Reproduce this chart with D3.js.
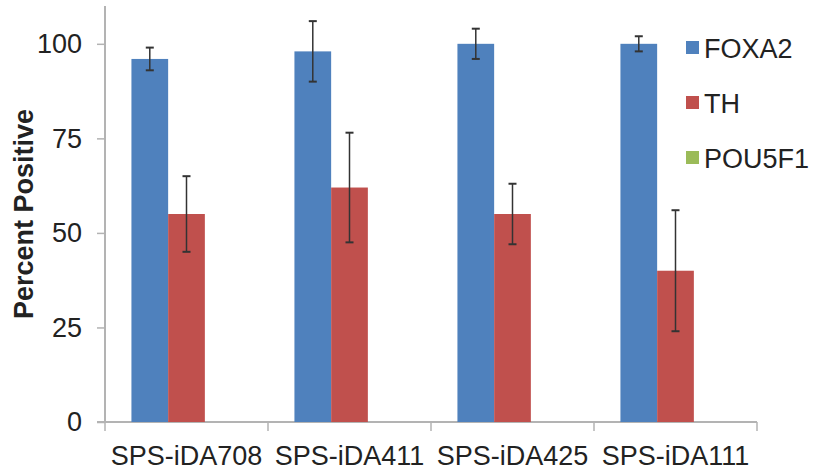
<!DOCTYPE html>
<html>
<head>
<meta charset="utf-8">
<script src="https://cdn.jsdelivr.net/npm/d3@7/dist/d3.min.js"></script>
<style>
  body { margin: 0; background: #fff; }
  svg text { font-family: "Liberation Sans", Arial, Helvetica, sans-serif; fill: #222; }
</style>
</head>
<body>
<div id="the_chart"></div>
<script>
var categories = ["SPS-iDA708", "SPS-iDA411", "SPS-iDA425", "SPS-iDA111"];
var seriesNames = ["FOXA2", "TH", "POU5F1"];
var foxa2 = [96, 98, 100, 100];
var foxa2Err = [3, 8, 4, 2];
var th = [55, 62, 55, 40];
var thErr = [10, 14.5, 8, 16];
var pou5f1 = [0, 0, 0, 0];
var yTicks = [0, 25, 50, 75, 100];

var colors = {FOXA2: "#4F81BD", TH: "#C0504D", POU5F1: "#9BBB59"};

// build rows for drawing
var values = {FOXA2: foxa2, TH: th, POU5F1: pou5f1};
var errors = {FOXA2: foxa2Err, TH: thErr, POU5F1: null};
var rows = [];
categories.forEach(function(c, i) {
    seriesNames.forEach(function(s) {
        rows.push({cat: c, series: s, value: values[s][i], err: errors[s] ? errors[s][i] : null});
    });
});

var w = 817, h = 472;
var padLeft = 105, padRight = 757, padTop = 6, padBottom = 422;

var svg = d3.select("#the_chart")
            .append("svg")
            .attr("width", w)
            .attr("height", h);

var xscale = d3.scaleBand()
               .domain(categories)
               .range([padLeft, padRight]);

var x1 = d3.scaleBand()
           .domain(seriesNames)
           .range([0, xscale.bandwidth()])
           .paddingOuter(0.72);

var yscale = d3.scaleLinear()
               .domain([0, 110])
               .range([padBottom, padTop]);

// axes
var axisColor = "#b3b3b3";

var yaxis = d3.axisLeft(yscale)
              .tickValues(yTicks)
              .tickSize(8)
              .tickPadding(15);

var gY = svg.append("g")
    .attr("transform", "translate(" + padLeft + ",0)")
    .call(yaxis);
gY.select(".domain").attr("stroke", axisColor).attr("stroke-width", 2)
    .attr("d", "M0," + yscale(110) + "V" + padBottom);
gY.selectAll(".tick line").attr("stroke", axisColor).attr("stroke-width", 1.5);
gY.selectAll(".tick text").attr("font-size", 27).style("font-family", "'Liberation Sans', Arial, sans-serif").attr("fill", "#222");

// x axis: ticks at category boundaries, like excel
var xaxis = d3.axisBottom(xscale).tickSize(0).tickPadding(24);
var gX = svg.append("g")
    .attr("transform", "translate(0," + padBottom + ")")
    .call(xaxis);
gX.select(".domain").attr("stroke", axisColor).attr("stroke-width", 2)
    .attr("d", "M" + (padLeft - 8) + ",0H" + padRight);
gX.selectAll(".tick text").attr("font-size", 27).style("font-family", "'Liberation Sans', Arial, sans-serif").attr("fill", "#222");

var bounds = categories.map(function(c) { return xscale(c); }).concat([padRight]);
gX.selectAll("line.bound")
    .data(bounds)
  .enter().append("line")
    .attr("class", "bound")
    .attr("x1", function(d) { return d; })
    .attr("x2", function(d) { return d; })
    .attr("y1", 0)
    .attr("y2", 9)
    .attr("stroke", axisColor)
    .attr("stroke-width", 1.5);

// bars
svg.selectAll("rect.bar")
    .data(rows)
  .enter().append("rect")
    .attr("class", "bar")
    .attr("x", function(d) { return xscale(d.cat) + x1(d.series); })
    .attr("width", x1.bandwidth())
    .attr("y", function(d) { return yscale(d.value); })
    .attr("height", function(d) { return padBottom - yscale(d.value); })
    .attr("fill", function(d) { return colors[d.series]; });

// error bars
var errRows = rows.filter(function(d) { return d.err != null; });
var eb = svg.selectAll("g.err")
    .data(errRows)
  .enter().append("g")
    .attr("class", "err")
    .attr("stroke", "#333")
    .attr("stroke-width", 1.5);
var cx = function(d) { return xscale(d.cat) + x1(d.series) + x1.bandwidth() / 2; };
eb.append("line")
    .attr("x1", cx).attr("x2", cx)
    .attr("y1", function(d) { return yscale(d.value + d.err); })
    .attr("y2", function(d) { return yscale(d.value - d.err); });
eb.append("line")
    .attr("x1", function(d) { return cx(d) - 4; }).attr("x2", function(d) { return cx(d) + 4; })
    .attr("y1", function(d) { return yscale(d.value + d.err); })
    .attr("y2", function(d) { return yscale(d.value + d.err); })
    .attr("stroke-width", 2);
eb.append("line")
    .attr("x1", function(d) { return cx(d) - 4; }).attr("x2", function(d) { return cx(d) + 4; })
    .attr("y1", function(d) { return yscale(d.value - d.err); })
    .attr("y2", function(d) { return yscale(d.value - d.err); })
    .attr("stroke-width", 2);

// y title
svg.append("text")
    .attr("transform", "translate(33," + ((padTop + padBottom) / 2) + ") rotate(-90)")
    .attr("text-anchor", "middle")
    .attr("font-size", 27)
    .attr("font-weight", "bold")
    .text("Percent Positive");

// legend
var legend = svg.selectAll("g.legend")
    .data(seriesNames)
  .enter().append("g")
    .attr("class", "legend")
    .attr("transform", function(d, i) { return "translate(686," + (48 + i * 55) + ")"; });
legend.append("rect")
    .attr("x", 0).attr("y", -7)
    .attr("width", 13).attr("height", 13)
    .attr("fill", function(d) { return colors[d]; });
legend.append("text")
    .attr("x", 18)
    .attr("dy", "0.36em")
    .attr("font-size", 27)
    .text(function(d) { return d; });
</script>
</body>
</html>
